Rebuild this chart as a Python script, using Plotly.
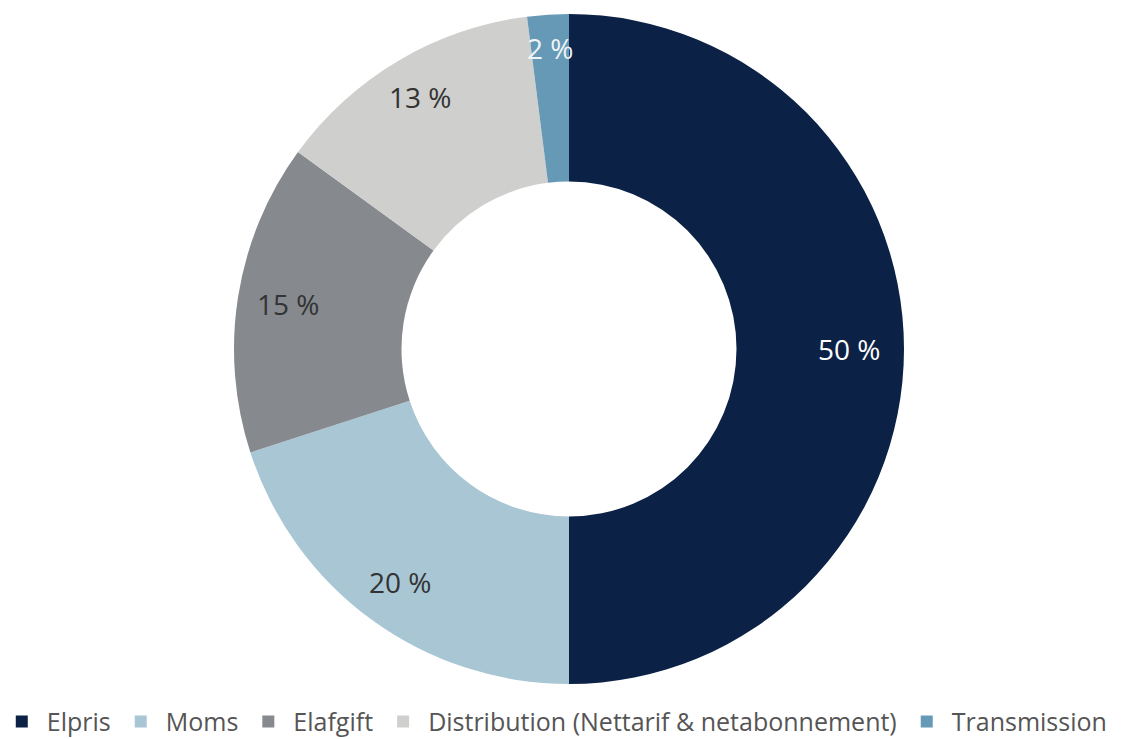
import math
import plotly.graph_objects as go

labels = ["Elpris", "Moms", "Elafgift", "Distribution (Nettarif & netabonnement)", "Transmission"]
values = [50, 20, 15, 13, 2]
text_labels = ["50 %", "20 %", "15 %", "13 %", "2 %"]
colors = ["#0b2145", "#a8c6d4", "#868a8e", "#cfcfcd", "#6599b5"]
text_colors = ["#ffffff", "#333333", "#333333", "#333333", "#f0f4f8"]
# radial placement of each label, as a fraction of the outer radius
label_r_frac = [0.835, 0.86, 0.85, 0.875, 0.9]

W, H = 1130, 739
M = dict(l=0, r=8, t=6, b=63, autoexpand=False)
plot_w = W - M["l"] - M["r"]
plot_h = H - M["t"] - M["b"]

fig = go.Figure(go.Pie(
    labels=labels,
    values=values,
    textinfo="none",
    hole=0.5,
    sort=False,
    direction="clockwise",
    rotation=0,
    marker=dict(colors=colors, line=dict(width=0)),
    hoverinfo="label+percent",
))

outer_r = min(plot_w, plot_h) / 2.0
total = sum(values)
cum = 0
for v, t, c, f in zip(values, text_labels, text_colors, label_r_frac):
    mid = (cum + v / 2.0) / total * 2 * math.pi
    cum += v
    r = f * outer_r
    x = 0.5 + r * math.sin(mid) / plot_w
    y = 0.5 + r * math.cos(mid) / plot_h
    fig.add_annotation(
        x=x, y=y, xref="paper", yref="paper", text=t, showarrow=False,
        font=dict(family="Open Sans, sans-serif", size=28, color=c),
        xanchor="center", yanchor="middle",
    )

fig.update_layout(
    width=W, height=H,
    margin=M,
    paper_bgcolor="white",
    showlegend=True,
    legend=dict(
        orientation="h", x=-0.01, xanchor="left", y=-0.022, yanchor="top",
        font=dict(family="Open Sans, sans-serif", size=25, color="#555555"),
        itemsizing="constant", itemwidth=40,
    ),
)

fig.write_html("out.html")
